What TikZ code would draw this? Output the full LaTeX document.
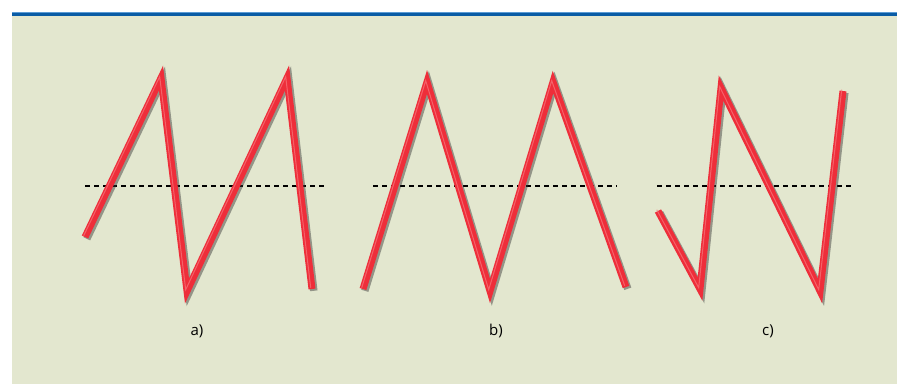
\documentclass[tikz,border=0pt]{standalone}
\usepackage{fontspec}
\setmainfont{Open Sans}
\definecolor{bgc}{HTML}{E3E7CF}
\definecolor{topblue}{HTML}{0A5CA5}
\definecolor{lightblue}{HTML}{5B9BD5}
\definecolor{redc}{HTML}{EE2E3A}
\definecolor{redhi}{HTML}{F7787E}
\begin{document}
\begin{tikzpicture}[x=1pt,y=-1pt,
  wave/.style={line width=7pt, draw=redc, line join=miter, miter limit=20},
  waveshadow/.style={line width=7.5pt, draw=black!80, opacity=0.45, line join=miter, miter limit=20, transform canvas={shift={(1.8,1.8)}}},
  wavehi/.style={line width=1pt, draw=redhi, opacity=0.7, line join=miter, miter limit=20, transform canvas={shift={(-1.3,-1.3)}}},
  axis/.style={draw=black, line width=1.5pt, dash pattern=on 5pt off 4pt},
  lab/.style={font=\fontsize{15}{18}\selectfont, text=black}]
\useasboundingbox (0,0) rectangle (897,384);
\fill[white] (0,0) rectangle (897,384);
\fill[bgc] (12,15) rectangle (897,384);
\fill[topblue] (12,12.5) rectangle (897,15.5);
\fill[lightblue] (12,12) rectangle (897,13);
% a)
\coordinate (a1) at (85,237);
\coordinate (a2) at (161,78);
\coordinate (a3) at (187,291);
\coordinate (a4) at (287,78);
\coordinate (a5) at (312,289);
\coordinate (ad1) at (85,186);
\coordinate (ad2) at (325,186);
\draw[axis] (ad1) -- (ad2);
\draw[waveshadow] (a1) -- (a2) -- (a3) -- (a4) -- (a5);
\draw[wave] (a1) -- (a2) -- (a3) -- (a4) -- (a5);
\draw[wavehi] (a1) -- (a2) -- (a3) -- (a4) -- (a5);
\node[lab] (la) at (197,331) {a)};
% b)
\coordinate (b1) at (363,289);
\coordinate (b2) at (427,82);
\coordinate (b3) at (490,291);
\coordinate (b4) at (553,82);
\coordinate (b5) at (626,287);
\coordinate (bd1) at (373,186);
\coordinate (bd2) at (617,186);
\draw[axis] (bd1) -- (bd2);
\draw[waveshadow] (b1) -- (b2) -- (b3) -- (b4) -- (b5);
\draw[wave] (b1) -- (b2) -- (b3) -- (b4) -- (b5);
\draw[wavehi] (b1) -- (b2) -- (b3) -- (b4) -- (b5);
\node[lab] (lb) at (496,331) {b)};
% c)
\coordinate (c1) at (658,211);
\coordinate (c2) at (700,289);
\coordinate (c3) at (721,88);
\coordinate (c4) at (820,291);
\coordinate (c5) at (843,91);
\coordinate (cd1) at (657,186);
\coordinate (cd2) at (853,186);
\draw[axis] (cd1) -- (cd2);
\draw[waveshadow] (c1) -- (c2) -- (c3) -- (c4) -- (c5);
\draw[wave] (c1) -- (c2) -- (c3) -- (c4) -- (c5);
\draw[wavehi] (c1) -- (c2) -- (c3) -- (c4) -- (c5);
\node[lab] (lc) at (768,331) {c)};
\end{tikzpicture}
\end{document}
